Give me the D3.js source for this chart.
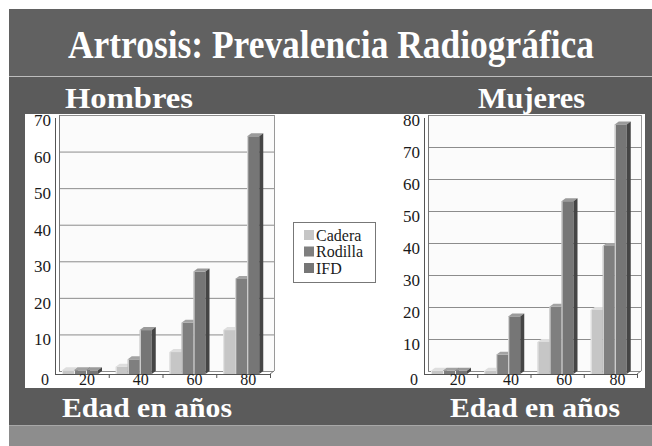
<!DOCTYPE html>
<html><head><meta charset="utf-8">
<script src="https://cdn.jsdelivr.net/npm/d3@7"></script>
<style>html,body{margin:0;padding:0;background:#fff;}svg{display:block;}</style>
</head><body>
<script>
// ---- data ----
const ages = ["20", "40", "60", "80"];
const series = ["Cadera", "Rodilla", "IFD"];
const hombresCadera = [1, 2, 6, 12];
const hombresRodilla = [1, 4, 14, 26];
const hombresIFD = [1, 12, 28, 65];
const mujeresCadera = [1, 1, 10, 20];
const mujeresRodilla = [1, 6, 21, 40];
const mujeresIFD = [1, 18, 54, 78];
const hombresTicks = [10, 20, 30, 40, 50, 60, 70];
const mujeresTicks = [10, 20, 30, 40, 50, 60, 70, 80];
const titleText = "Artrosis: Prevalencia Radiográfica";
const xTitle = "Edad en años";

const W = 652, H = 446;
const svg = d3.select("body").append("svg").attr("width", W).attr("height", H);
const serif = "'Liberation Serif','Times New Roman',serif";

// background
svg.append("rect").attr("x", 0).attr("y", 0).attr("width", W).attr("height", H).attr("fill", "#fff");
svg.append("rect").attr("x", 9).attr("y", 9).attr("width", W - 9).attr("height", 416).attr("fill", "#5b5b5b");
svg.append("rect").attr("x", 9).attr("y", 9).attr("width", W - 9).attr("height", 67).attr("fill", "#616161");
svg.append("line").attr("x1", 9).attr("x2", W).attr("y1", 76.5).attr("y2", 76.5).attr("stroke", "#bdbdbd").attr("stroke-width", 1);
svg.append("rect").attr("x", 9).attr("y", 425).attr("width", W - 9).attr("height", 21).attr("fill", "#8d8d8d");
svg.append("line").attr("x1", 9).attr("x2", W).attr("y1", 425.5).attr("y2", 425.5).attr("stroke", "#a8a8a8");

// titles
function label(t, x, y, size, len) {
  svg.append("text").attr("x", x).attr("y", y).attr("fill", "#fff")
    .attr("font-family", serif).attr("font-weight", "bold").attr("font-size", size)
    .attr("textLength", len).attr("lengthAdjust", "spacingAndGlyphs").text(t);
}
label(titleText, 68, 58, 39, 526);
label("Hombres", 65, 108, 30, 128);
label("Mujeres", 478, 108, 30, 107);
label(xTitle, 62, 417, 28, 170);
label(xTitle, 450, 417, 28, 170);

// white panel
svg.append("rect").attr("x", 25).attr("y", 114).attr("width", 620).attr("height", 274).attr("fill", "#fff");

const colors = {
  Cadera: { front: "#c6c6c6", top: "#dedede", side: "#9c9c9c" },
  Rodilla: { front: "#7f7f7f", top: "#a3a3a3", side: "#4c4c4c" },
  IFD: { front: "#767676", top: "#9a9a9a", side: "#454545" }
};

function tickText(sel, size) {
  return sel.attr("font-family", serif).attr("font-size", size).attr("fill", "#1a1a1a");
}

function chart(cfg) {
  const { axisX, right, max, ticks, values, labelShift } = cfg;
  const y = d3.scaleLinear().domain([0, max]).range([371, 115]);
  const x = d3.scaleBand().domain(ages).range([axisX, right]);
  const xs = d3.scaleBand().domain(series).range([0, 36]);
  const g = svg.append("g");
  const dx = 4, dy = 3;

  // back wall
  g.append("rect").attr("x", axisX).attr("y", y(max)).attr("width", right - axisX).attr("height", y(0) - y(max)).attr("fill", "#fbfbfb");
  // gridlines
  g.selectAll(".grid").data(ticks.concat([0])).enter().append("line")
    .attr("x1", axisX).attr("x2", right).attr("y1", d => y(d) + 0.5).attr("y2", d => y(d) + 0.5)
    .attr("stroke", "#8c8c8c").attr("stroke-width", 1);
  // walls
  g.append("line").attr("x1", axisX + 0.5).attr("x2", axisX + 0.5).attr("y1", y(max)).attr("y2", y(0)).attr("stroke", "#777");
  g.append("line").attr("x1", right + 0.5).attr("x2", right + 0.5).attr("y1", y(max)).attr("y2", y(0)).attr("stroke", "#999");
  // front axis
  g.append("line").attr("x1", axisX - dx + 0.5).attr("x2", axisX - dx + 0.5).attr("y1", y(max) + dy).attr("y2", y(0) + dy).attr("stroke", "#555");
  g.append("line").attr("x1", axisX - dx).attr("x2", right - dx).attr("y1", y(0) + dy + 0.5).attr("y2", y(0) + dy + 0.5).attr("stroke", "#555");
  // floor edges
  g.append("line").attr("x1", right - dx).attr("x2", right).attr("y1", y(0) + dy).attr("y2", y(0)).attr("stroke", "#777");
  // x ticks
  g.selectAll(".xt").data(ages.slice(1).concat(["end"])).enter().append("line")
    .attr("x1", d => (d === "end" ? right : x(d)) - dx + 0.5).attr("x2", d => (d === "end" ? right : x(d)) - dx + 0.5)
    .attr("y1", y(0) + dy).attr("y2", y(0) + dy + 4).attr("stroke", "#555");
  // y tick labels
  tickText(g.selectAll(".yl").data(ticks).enter().append("text")
    .attr("x", axisX - 8).attr("y", d => y(d) + 5).attr("dy", "0.35em")
    .attr("text-anchor", "end").attr("textLength", 17).attr("lengthAdjust", "spacingAndGlyphs"), 17)
    .text(d => d);
  tickText(g.append("text").attr("x", axisX - 14).attr("y", 385).attr("text-anchor", "middle"), 16).text("0");
  // x labels
  tickText(g.selectAll(".xl").data(ages).enter().append("text")
    .attr("x", d => x(d) + x.bandwidth() / 2 + labelShift).attr("y", 385).attr("text-anchor", "middle"), 16)
    .text(d => d);

  // bars
  ages.forEach((a, i) => {
    series.forEach(s => {
      const v = values[s][i];
      const bx = x(a) + 7 + xs(s) - dx;
      const w = xs.bandwidth();
      const top = y(v) + dy, bot = y(0) + dy;
      const c = colors[s];
      const bg = g.append("g");
      bg.append("rect").attr("x", bx).attr("y", top).attr("width", w).attr("height", bot - top).attr("fill", c.front);
      bg.append("line").attr("x1", bx + 0.5).attr("x2", bx + 0.5).attr("y1", top).attr("y2", bot).attr("stroke", "#e8e8e8").attr("stroke-width", 1);
      bg.append("path").attr("d", `M${bx},${top}L${bx + dx},${top - dy}L${bx + w + dx},${top - dy}L${bx + w},${top}Z`).attr("fill", c.top);
      bg.append("path").attr("d", `M${bx + w},${top}L${bx + w + dx},${top - dy}L${bx + w + dx},${bot - dy}L${bx + w},${bot}Z`).attr("fill", c.side);
    });
  });
}

chart({ axisX: 59, right: 274, max: 70, ticks: hombresTicks, labelShift: 1,
  values: { Cadera: hombresCadera, Rodilla: hombresRodilla, IFD: hombresIFD } });
chart({ axisX: 428, right: 641, max: 80, ticks: mujeresTicks, labelShift: 3,
  values: { Cadera: mujeresCadera, Rodilla: mujeresRodilla, IFD: mujeresIFD } });

// legend
const lg = svg.append("g");
lg.append("rect").attr("x", 293.5).attr("y", 222.5).attr("width", 82).attr("height", 60).attr("fill", "#fff").attr("stroke", "#777");
series.forEach((s, i) => {
  const cy = 235 + i * 16.5;
  lg.append("rect").attr("x", 304).attr("y", cy - 5).attr("width", 10).attr("height", 10).attr("fill", colors[s].front);
  lg.append("text").attr("x", 316).attr("y", cy).attr("dy", "0.35em").attr("font-family", serif).attr("font-size", 16).attr("fill", "#1a1a1a").text(s);
});
</script>
</body></html>
